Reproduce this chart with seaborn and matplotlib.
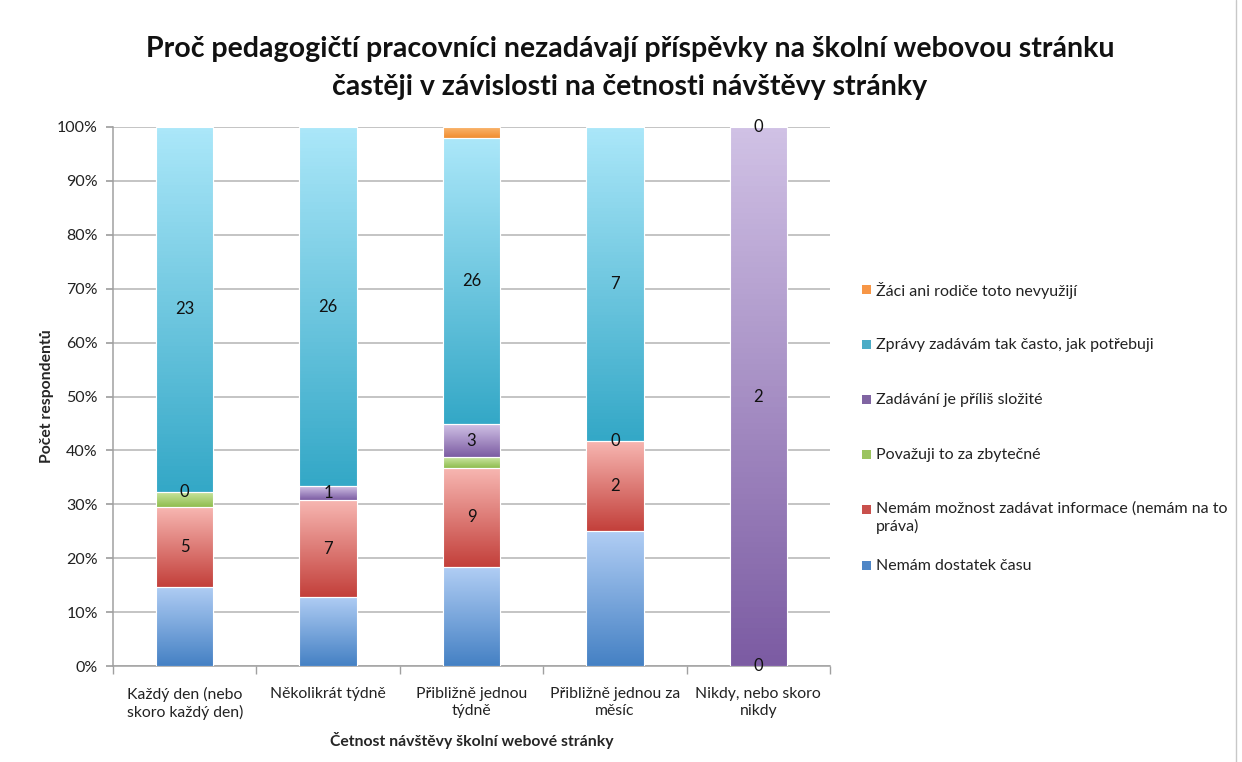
"""
plot.py
    Stacked 100 % bar chart: why teachers do not post on the school website more often
Output:
  - out.png
"""

import numpy as np
import matplotlib
matplotlib.use('Agg')
import matplotlib.pyplot as plt
import seaborn as sns
from matplotlib.colors import LinearSegmentedColormap
from matplotlib.patches import Rectangle

# Data
categories = ['Každý den (nebo\nskoro každý den)', 'Několikrát týdně', 'Přibližně jednou\ntýdně',
              'Přibližně jednou za\nměsíc', 'Nikdy, nebo skoro\nnikdy']
series_names = ['Nemám dostatek času', 'Nemám možnost zadávat informace (nemám na to\npráva)',
                'Považuji to za zbytečné', 'Zadávání je příliš složité',
                'Zprávy zadávám tak často, jak potřebuji', 'Žáci ani rodiče toto nevyužijí']
cnt_cas = [5, 5, 9, 3, 0]
cnt_prava = [5, 7, 9, 2, 0]
cnt_zbytecne = [1, 0, 1, 0, 0]
cnt_slozite = [0, 1, 3, 0, 2]
cnt_potrebuji = [23, 26, 26, 7, 0]
cnt_nevyuziji = [0, 0, 1, 0, 0]
# value labels as they appear in the chart (None = no label)
lab_cas = [None] * 5
lab_prava = ['5', '7', '9', '2', '0']
lab_zbytecne = [None] * 5
lab_slozite = ['0', '1', '3', '0', '2']
lab_potrebuji = ['23', '26', '26', '7', '0']
lab_nevyuziji = [None] * 5
y_ticks = [0, 10, 20, 30, 40, 50, 60, 70, 80, 90, 100]

# gradient colours (top, bottom)
grad = [('#b0cdf4', '#4581c4'), ('#f7b6b1', '#c3403b'), ('#cbe6a3', '#8fbd4e'),
        ('#d0c1e5', '#7c5ca3'), ('#abe7f9', '#34a8c7'), ('#fab56e', '#f08d30')]
legend_col = ['#4f86c6', '#c9504c', '#9bc45f', '#8064a2', '#4bacc6', '#f79646']

sns.set_theme(style='white')
plt.rcParams['font.family'] = ['Lato', 'DejaVu Sans']

counts = np.array([cnt_cas, cnt_prava, cnt_zbytecne, cnt_slozite, cnt_potrebuji, cnt_nevyuziji], dtype=float)
labels = [lab_cas, lab_prava, lab_zbytecne, lab_slozite, lab_potrebuji, lab_nevyuziji]
pct = counts / counts.sum(axis=0) * 100

W, H = 1242, 762
fig = plt.figure(figsize=(W / 100, H / 100), dpi=100)
ax = fig.add_axes([113 / W, 1 - 666 / H, (830 - 113) / W, (666 - 127) / H])

bottom = np.zeros(len(categories))
for k in range(len(series_names)):
    n_before = len(ax.patches)
    sns.barplot(x=categories, y=pct[k], bottom=bottom, order=categories, color=legend_col[k],
                width=0.4, errorbar=None, ax=ax, edgecolor='white', linewidth=0.8, zorder=3)
    cmap = LinearSegmentedColormap.from_list('g%d' % k, [grad[k][1], grad[k][0]])
    for p in ax.patches[n_before:]:
        h = p.get_height()
        if h <= 0:
            continue
        x0, y0, w = p.get_x(), p.get_y(), p.get_width()
        im = ax.imshow(np.linspace(0, 1, 100).reshape(-1, 1), cmap=cmap, origin='lower',
                       extent=[x0, x0 + w, y0, y0 + h], aspect='auto', zorder=3.5)
        im.set_clip_path(p)
        ax.add_patch(Rectangle((x0, y0), w, h, fill=False, edgecolor='white', linewidth=0.8, zorder=3.6))
    for i in range(len(categories)):
        if labels[k][i] is not None:
            ax.text(i, bottom[i] + pct[k][i] / 2, labels[k][i], ha='center', va='center',
                    fontsize=12, color='#111111', zorder=5)
    bottom = bottom + pct[k]

ax.set_xlim(-0.5, len(categories) - 0.5)
ax.set_ylim(0, 100)
ax.set_yticks(y_ticks)
ax.set_yticklabels([f'{t}%' for t in y_ticks], fontsize=11.5, color='#222222')
ax.set_xticks(range(len(categories)))
ax.set_xticklabels(categories, fontsize=11.3, color='#222222', linespacing=1.25)
ax.set_xticks(np.arange(-0.5, len(categories)), minor=True)
ax.tick_params(axis='x', which='major', length=0, pad=15)
ax.tick_params(axis='x', which='minor', length=6, color='#a0a0a0', direction='out', bottom=True)
ax.tick_params(axis='y', length=5, color='#a0a0a0', direction='out', left=True, pad=6)
ax.yaxis.grid(True, color='#b4b4b4', linewidth=1.1, zorder=0)
ax.set_axisbelow(True)
for side in ['top', 'right']:
    ax.spines[side].set_visible(False)
for side in ['left', 'bottom']:
    ax.spines[side].set_color('#a0a0a0')
    ax.spines[side].set_linewidth(1.1)

ax.set_xlabel('Četnost návštěvy školní webové stránky', fontsize=11.3, fontweight='bold', labelpad=9)
ax.set_ylabel('Počet respondentů', fontsize=11.3, fontweight='bold', labelpad=2)

fig.text(630 / W, 1 - 49 / H, 'Proč pedagogičtí pracovníci nezadávají příspěvky na školní webovou stránku',
         ha='center', va='center', fontsize=20.5, fontweight='bold', color='#111111')
fig.text(630 / W, 1 - 87 / H, 'častěji v závislosti na četnosti návštěvy stránky',
         ha='center', va='center', fontsize=20.5, fontweight='bold', color='#111111')

# legend, top entry = last series
legend_y = [566, 510, 455, 400, 345, 290]
for k in range(len(series_names)):
    yk = 1 - legend_y[k] / H
    fig.patches.append(Rectangle((862 / W, yk - 4 / H), 9 / W, 9 / H, transform=fig.transFigure,
                                 facecolor=legend_col[k], edgecolor='none'))
    if '\n' in series_names[k]:
        fig.text(876 / W, yk + 9 / H, series_names[k], ha='left', va='top', fontsize=11.5,
                 color='#222222', linespacing=1.3)
    else:
        fig.text(876 / W, yk, series_names[k], ha='left', va='center', fontsize=11.5, color='#222222')

fig.add_artist(plt.Line2D([1236 / W, 1236 / W], [0, 1], color='#c8c8c8', linewidth=1))

fig.savefig('out.png', dpi=100)
